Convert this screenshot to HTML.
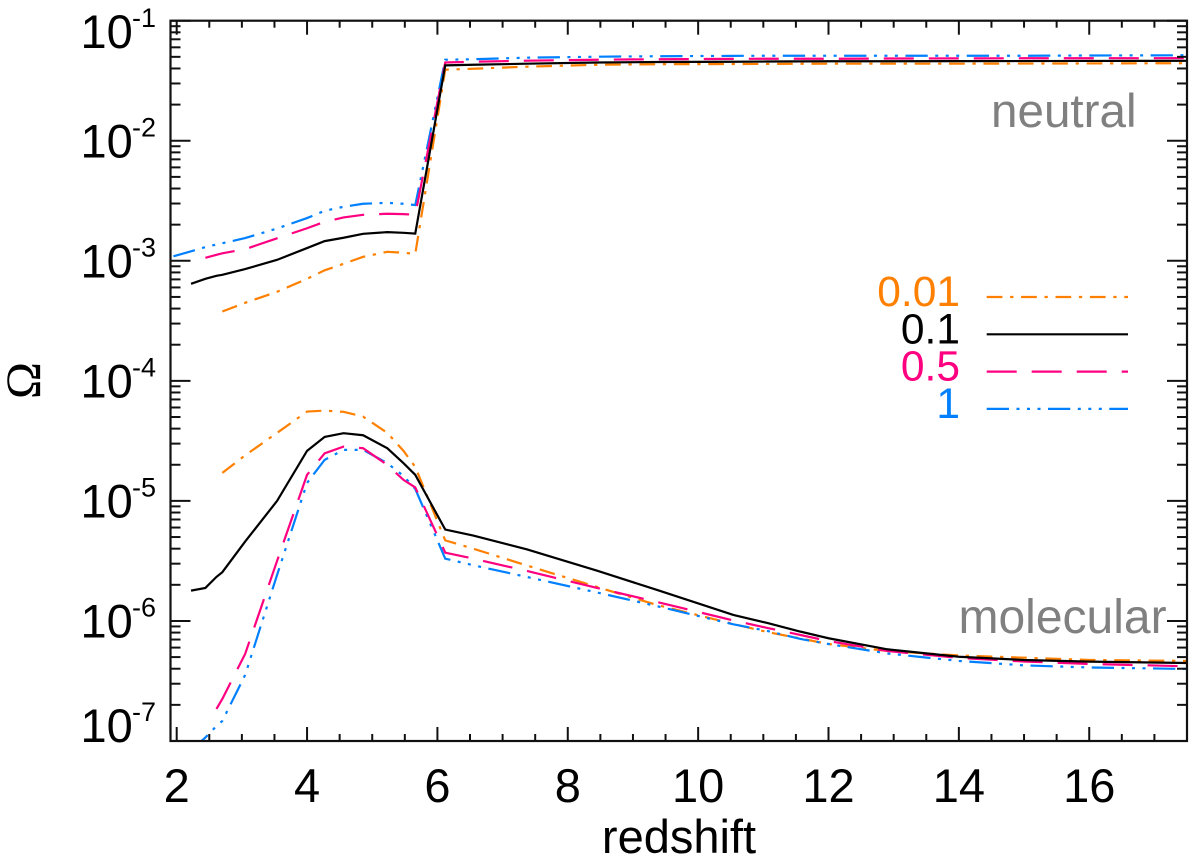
<!DOCTYPE html>
<html lang="en">
<head>
<meta charset="utf-8">
<title>Omega vs redshift</title>
<style>
  html, body { margin: 0; padding: 0; background: #fff; }
  body { width: 1200px; height: 863px; overflow: hidden; }
  svg { display: block; font-family: "Liberation Sans", Arial, sans-serif; }
</style>
</head>
<body>
<svg id="chart" xmlns="http://www.w3.org/2000/svg" width="1200" height="863" viewBox="0 0 1200 863">
  <defs>
    <clipPath id="plot-clip"><rect x="170.5" y="20.7" width="1016.5" height="720.3"></rect></clipPath>
  </defs>
  <rect x="0" y="0" width="1200" height="863" fill="#ffffff"></rect>
  <g id="series-layer" clip-path="url(#plot-clip)"></g>
  <g id="axis-layer"></g>
  <g id="label-layer"></g>
  <text x="679" y="853" font-size="47" text-anchor="middle" fill="#000">redshift</text>
  <text transform="translate(40 380.5) rotate(-90)" font-family="'Liberation Serif', serif" font-size="50" text-anchor="middle" fill="#000">Ω</text>
  <text x="991" y="127" font-size="47.6" fill="#808080">neutral</text>
  <text x="958.5" y="633" font-size="48" fill="#808080">molecular</text>
  <g id="legend-layer"></g>
</svg>
<script>
// Shared snapshot redshifts
const redshift = [1.95, 2.22, 2.44, 2.61, 2.7, 3.05, 3.54, 4, 4.27, 4.56, 4.86, 5.23, 5.48, 5.66, 6.12, 6.55, 7.37, 8.45, 9.37, 10.54, 11.06, 11.57, 12, 12.9, 14, 15, 16, 17.5];

// log10(Omega); null = series not drawn at that redshift
const neutralOrange = [null, null, null, null, -3.4225, -3.35, -3.258, -3.15, -3.079, -3.025, -2.967, -2.925, -2.933, -2.942, -1.408, -1.4, -1.383, -1.367, -1.3625, -1.361, -1.36, -1.359, -1.358, -1.358, -1.358, -1.357, -1.356, -1.354];
const neutralBlack = [null, -3.192, -3.15, -3.125, -3.117, -3.069, -2.992, -2.894, -2.836, -2.808, -2.775, -2.761, -2.767, -2.773, -1.372, -1.367, -1.358, -1.348, -1.344, -1.342, -1.34, -1.339, -1.338, -1.3375, -1.337, -1.336, -1.335, -1.334];
const neutralPink = [null, null, -2.975, -2.95, -2.9375, -2.903, -2.8125, -2.729, -2.675, -2.639, -2.617, -2.608, -2.611, -2.617, -1.348, -1.342, -1.333, -1.325, -1.321, -1.318, -1.317, -1.317, -1.317, -1.315, -1.314, -1.313, -1.3125, -1.312];
const neutralBlue = [-2.9625, -2.921, -2.886, -2.864, -2.854, -2.811, -2.731, -2.644, -2.583, -2.55, -2.525, -2.517, -2.525, -2.536, -1.325, -1.321, -1.308, -1.3, -1.296, -1.293, -1.292, -1.292, -1.292, -1.292, -1.292, -1.292, -1.29, -1.288];

const molecularOrange = [null, null, null, null, -4.767, -4.621, -4.433, -4.256, -4.248, -4.258, -4.298, -4.433, -4.583, -4.717, -5.329, -5.398, -5.5375, -5.717, -5.867, -6.025, -6.092, -6.146, -6.192, -6.25, -6.2875, -6.306, -6.325, -6.333];
const molecularBlack = [null, -5.7475, -5.725, -5.633, -5.594, -5.339, -5.0, -4.583, -4.467, -4.436, -4.453, -4.561, -4.686, -4.783, -5.239, -5.289, -5.403, -5.581, -5.742, -5.95, -6.017, -6.089, -6.144, -6.236, -6.298, -6.325, -6.339, -6.35];
const molecularPink = [null, null, null, -6.733, -6.65, -6.275, -5.5, -4.783, -4.604, -4.5475, -4.561, -4.7, -4.825, -4.8875, -5.431, -5.481, -5.583, -5.725, -5.842, -5.996, -6.058, -6.117, -6.167, -6.25, -6.308, -6.3375, -6.358, -6.3775];
const molecularBlue = [null, -7.075, -6.971, -6.875, -6.833, -6.45, -5.617, -4.85, -4.658, -4.575, -4.575, -4.686, -4.792, -4.9, -5.481, -5.536, -5.633, -5.763, -5.877, -6.028, -6.083, -6.15, -6.192, -6.271, -6.333, -6.37, -6.3875, -6.4];

// Axis content
const xTickLabels = [2, 4, 6, 8, 10, 12, 14, 16];
const yExponents = [-1, -2, -3, -4, -5, -6, -7];
const minorMultiples = [2, 3, 4, 5, 6, 7, 8, 9];
const legendLabels = ["0.01", "0.1", "0.5", "1"];
const seriesKeys = ["orange", "black", "pink", "blue"];

// Axis functions
const plotLeft = 170.5, plotRight = 1187, plotTop = 20.7, plotBottom = 741;
const xMin = 1.905, xMax = 17.5, logMax = -1, logMin = -7;
function xScale(z) { return plotLeft + (z - xMin) / (xMax - xMin) * (plotRight - plotLeft); }
function yScale(logOmega) { return plotTop + (logMax - logOmega) / (logMax - logMin) * (plotBottom - plotTop); }

const SVGNS = "http://www.w3.org/2000/svg";
const seriesLayer = document.getElementById("series-layer");
const axisLayer = document.getElementById("axis-layer");
const labelLayer = document.getElementById("label-layer");
const legendLayer = document.getElementById("legend-layer");

const palette = { orange: "#ff8000", black: "#000000", pink: "#ff0080", blue: "#0080ff" };
const dashes = { orange: "15.7 7.7 3.3 7.7", black: "none", pink: "30 15", blue: "22.3 7.5 3 7.5 3 7.5 3 7.5" };

function linePath(values) {
  let d = "";
  values.forEach(function (v, i) {
    if (v === null) return;
    d += (d ? "L" : "M") + xScale(redshift[i]).toFixed(2) + " " + yScale(v).toFixed(2);
  });
  return d;
}

function drawSeries(values, key, kind) {
  const p = document.createElementNS(SVGNS, "path");
  
  
  p.setAttribute("d", linePath(values));
  p.setAttribute("fill", "none");
  p.setAttribute("stroke", palette[key]);
  p.setAttribute("stroke-width", "2.2");
  p.setAttribute("stroke-linejoin", "miter");
  p.setAttribute("stroke-dasharray", dashes[key]);
  seriesLayer.appendChild(p);
}

drawSeries(neutralOrange, "orange", "neutral");
drawSeries(molecularOrange, "orange", "molecular");
drawSeries(neutralBlue, "blue", "neutral");
drawSeries(molecularBlue, "blue", "molecular");
drawSeries(neutralPink, "pink", "neutral");
drawSeries(molecularPink, "pink", "molecular");
drawSeries(neutralBlack, "black", "neutral");
drawSeries(molecularBlack, "black", "molecular");

function addTick(x1, y1, x2, y2, width) {
  const t = document.createElementNS(SVGNS, "line");
  
  
  t.setAttribute("x1", x1);
  t.setAttribute("y1", y1);
  t.setAttribute("x2", x2);
  t.setAttribute("y2", y2);
  t.setAttribute("stroke", "#111");
  t.setAttribute("stroke-width", width);
  axisLayer.appendChild(t);
}

// Plot frame
const frame = document.createElementNS(SVGNS, "rect");


frame.setAttribute("x", plotLeft);
frame.setAttribute("y", plotTop);
frame.setAttribute("width", plotRight - plotLeft);
frame.setAttribute("height", plotBottom - plotTop);
frame.setAttribute("fill", "none");
frame.setAttribute("stroke", "#111");
frame.setAttribute("stroke-width", "2.2");
axisLayer.appendChild(frame);

// X ticks: major every 2, minor every 0.5
for (let i = 0; 2 + i * 0.5 <= xMax; i++) {
  const z = 2 + i * 0.5;
  const len = i % 4 === 0 ? 14 : 7;
  const x = xScale(z);
  addTick(x, plotBottom, x, plotBottom - len, 2);
  addTick(x, plotTop, x, plotTop + len, 2);
}

// Y ticks: major per decade, minor at multiples
yExponents.forEach(function (e) {
  const y = yScale(e);
  addTick(plotLeft, y, plotLeft + 20, y, 2);
  addTick(plotRight, y, plotRight - 20, y, 2);
  if (e < -1) {
    minorMultiples.forEach(function (m) {
      const ym = yScale(e + Math.log10(m));
      addTick(plotLeft, ym, plotLeft + 10, ym, 2);
      addTick(plotRight, ym, plotRight - 10, ym, 2);
    });
  }
});

// X tick labels
xTickLabels.forEach(function (v) {
  const t = document.createElementNS(SVGNS, "text");
  
  
  t.setAttribute("x", xScale(v));
  t.setAttribute("y", 802);
  t.setAttribute("font-size", "47");
  t.setAttribute("text-anchor", "middle");
  t.textContent = String(v);
  labelLayer.appendChild(t);
});

// Y tick labels
yExponents.forEach(function (e) {
  let base = yScale(e) + 16.5;
  if (e === -1) base = 48;
  if (e === -7) base = 742;
  const t = document.createElementNS(SVGNS, "text");
  
  
  t.setAttribute("x", 80.5);
  t.setAttribute("y", base);
  t.setAttribute("font-size", "47");
  t.textContent = "10";
  labelLayer.appendChild(t);
  const s = document.createElementNS(SVGNS, "text");
  
  
  s.setAttribute("x", 132);
  s.setAttribute("y", base - 21);
  s.setAttribute("font-size", "27");
  s.textContent = String(e);
  labelLayer.appendChild(s);
});

// Legend
legendLabels.forEach(function (label, i) {
  const key = seriesKeys[i];
  const rowY = 297 + i * 37.3;
  const t = document.createElementNS(SVGNS, "text");
  
  
  t.setAttribute("x", 960);
  t.setAttribute("y", rowY + 9);
  t.setAttribute("font-size", "42.5");
  t.setAttribute("text-anchor", "end");
  t.setAttribute("fill", palette[key]);
  t.textContent = label;
  legendLayer.appendChild(t);
  const l = document.createElementNS(SVGNS, "line");
  
  
  l.setAttribute("x1", 986.7);
  l.setAttribute("y1", rowY);
  l.setAttribute("x2", 1128);
  l.setAttribute("y2", rowY);
  l.setAttribute("stroke", palette[key]);
  l.setAttribute("stroke-width", "2.2");
  l.setAttribute("stroke-dasharray", dashes[key]);
  legendLayer.appendChild(l);
});
</script>
</body>
</html>
